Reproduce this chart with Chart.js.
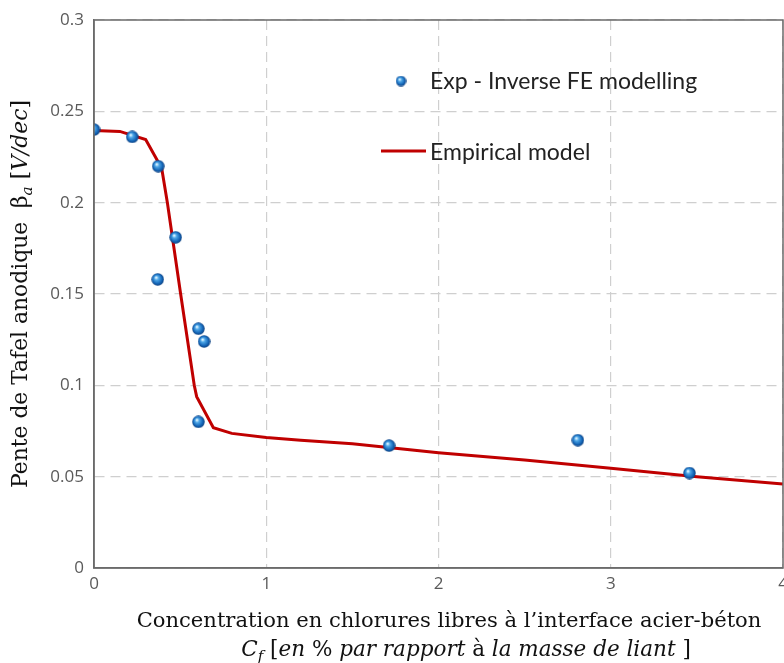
<!DOCTYPE html>
<html>
<head>
<meta charset="utf-8">
<script src="https://cdn.jsdelivr.net/npm/chart.js@4.4.1/dist/chart.umd.min.js"></script>
<style>
  html, body { margin: 0; padding: 0; background: #fff; }
  #wrap { width: 784px; height: 663px; position: relative; }
</style>
</head>
<body>
<div id="wrap"><canvas id="chart" width="784" height="663"></canvas></div>
<script>
// Données
const expX = [0, 0.222, 0.373, 0.474, 0.370, 0.606, 0.639, 0.606, 1.713, 2.809, 3.457];
const expY = [0.240, 0.236, 0.220, 0.181, 0.158, 0.131, 0.124, 0.080, 0.067, 0.070, 0.052];

const modelX = [0, 0.15, 0.30, 0.393, 0.426, 0.503, 0.582, 0.596, 0.693, 0.80, 1.0, 1.2, 1.5, 2.0, 2.5, 3.0, 3.5, 4.0];
const modelY = [0.2395, 0.239, 0.2346, 0.2188, 0.200, 0.150, 0.100, 0.0938, 0.0768, 0.0737, 0.0715, 0.0700, 0.0680, 0.0631, 0.0591, 0.0546, 0.0500, 0.0460];

const xTicks = [0, 1, 2, 3, 4];
const yTicks = [0, 0.05, 0.1, 0.15, 0.2, 0.25, 0.3];

const seriesNames = ['Exp - Inverse FE modelling', 'Empirical model'];

const SERIF = '"DejaVu Serif", "Liberation Serif", serif';
const AXIS_COLOR = '#6b6b6b';
const RED = '#c00000';

// Petite sphère bleue pour les points
function makeSphere(d) {
    const c = document.createElement('canvas');
    c.width = d; c.height = d;
    const g = c.getContext('2d');
    const r = d / 2;
    const grad = g.createRadialGradient(r * 0.75, r * 0.7, r * 0.1, r, r, r);
    grad.addColorStop(0, '#d6f0ff');
    grad.addColorStop(0.25, '#4fa8e8');
    grad.addColorStop(0.7, '#1466b8');
    grad.addColorStop(1, '#0a3a78');
    g.fillStyle = grad;
    g.beginPath();
    g.arc(r, r, r - 0.3, 0, Math.PI * 2);
    g.fill();
    return c;
}
const sphere = makeSphere(13);
const sphereSmall = makeSphere(11);

// Texte composé de morceaux (droit / italique / indice)
function runsWidth(ctx, runs, size) {
    let w = 0;
    runs.forEach(r => {
        const s = r.sub ? size * 0.7 : size;
        ctx.font = (r.it ? 'italic ' : '') + s + 'px ' + SERIF;
        w += ctx.measureText(r.t).width;
    });
    return w;
}
function drawRuns(ctx, runs, x, y, size) {
    let cx = x;
    runs.forEach(r => {
        const s = r.sub ? size * 0.7 : size;
        ctx.font = (r.it ? 'italic ' : '') + s + 'px ' + SERIF;
        ctx.fillText(r.t, cx, y + (r.sub ? size * 0.22 : 0));
        cx += ctx.measureText(r.t).width;
    });
}
// taille de police pour obtenir une largeur voulue
function fitSize(ctx, runs, target) {
    const w = runsWidth(ctx, runs, 20);
    return 20 * target / w;
}

const yTitle = [
    { t: 'Pente de Tafel anodique  β' },
    { t: 'a', it: true, sub: true },
    { t: ' [' },
    { t: 'V/dec', it: true },
    { t: ']' }
];
const xTitle1 = [{ t: 'Concentration en chlorures libres à l’interface acier-béton' }];
const xTitle2 = [
    { t: 'C', it: true },
    { t: 'f', it: true, sub: true },
    { t: ' [' },
    { t: 'en ', it: true },
    { t: '% ' },
    { t: 'par rapport', it: true },
    { t: ' à ' },
    { t: 'la masse de liant', it: true },
    { t: ' ]' }
];

const decorations = {
    id: 'decorations',
    afterDraw(chart) {
        const ctx = chart.ctx;
        const a = chart.chartArea;
        ctx.save();

        // cadre
        ctx.strokeStyle = AXIS_COLOR;
        ctx.lineWidth = 1.5;
        ctx.strokeRect(a.left, a.top, a.right - a.left, a.bottom - a.top);

        ctx.fillStyle = '#111';
        ctx.textBaseline = 'alphabetic';
        ctx.textAlign = 'left';

        // titre axe Y (vertical)
        let s = fitSize(ctx, yTitle, 388);
        let w = runsWidth(ctx, yTitle, s);
        ctx.save();
        ctx.translate(27, 294);
        ctx.rotate(-Math.PI / 2);
        drawRuns(ctx, yTitle, -w / 2, 0, s);
        ctx.restore();

        // titre axe X, deux lignes
        s = fitSize(ctx, xTitle1, 625);
        w = runsWidth(ctx, xTitle1, s);
        drawRuns(ctx, xTitle1, 449 - w / 2, 627, s);
        const s2 = s * 1.02;
        w = runsWidth(ctx, xTitle2, s2);
        drawRuns(ctx, xTitle2, 466 - w / 2, 656, s2);

        // légende
        ctx.drawImage(sphereSmall, 401 - 5.5, 81 - 5.5);
        ctx.strokeStyle = RED;
        ctx.lineWidth = 3;
        ctx.beginPath();
        ctx.moveTo(381, 151);
        ctx.lineTo(426, 151);
        ctx.stroke();

        ctx.fillStyle = '#222';
        ctx.font = '23px Lato, "Open Sans", sans-serif';
        ctx.textBaseline = 'middle';
        ctx.fillText(seriesNames[0], 430, 82);
        ctx.fillText(seriesNames[1], 430, 153);
        ctx.restore();
    }
};

const ctx = document.getElementById('chart').getContext('2d');
new Chart(ctx, {
    data: {
        datasets: [
            {
                type: 'scatter',
                label: seriesNames[0],
                data: expX.map((x, i) => ({ x: x, y: expY[i] })),
                pointStyle: sphere,
                pointRadius: 6.5,
                order: 1
            },
            {
                type: 'line',
                label: seriesNames[1],
                data: modelX.map((x, i) => ({ x: x, y: modelY[i] })),
                borderColor: RED,
                borderWidth: 3,
                pointRadius: 0,
                tension: 0,
                fill: false,
                order: 2
            }
        ]
    },
    options: {
        responsive: false,
        animation: false,
        layout: { autoPadding: false, padding: { top: 20, right: 1, left: 0, bottom: 0 } },
        plugins: {
            legend: { display: false },
            tooltip: { enabled: false }
        },
        scales: {
            x: {
                type: 'linear',
                min: 0, max: 4,
                afterBuildTicks: (sc) => { sc.ticks = xTicks.map(v => ({ value: v })); },
                afterFit: (sc) => { sc.height = 95; sc.paddingLeft = 0; sc.paddingRight = 0; },
                ticks: {
                    color: '#5a5a5a',
                    font: { family: '"Open Sans", sans-serif', size: 17 },
                    padding: 6,
                    maxRotation: 0,
                    callback: v => String(v)
                },
                grid: { color: '#cfcfcf', lineWidth: 1.2, drawTicks: false },
                border: { display: true, color: AXIS_COLOR, width: 1.5, dash: [10, 6] }
            },
            y: {
                type: 'linear',
                min: 0, max: 0.3,
                afterBuildTicks: (sc) => { sc.ticks = yTicks.map(v => ({ value: v })); },
                afterFit: (sc) => { sc.width = 94; sc.paddingTop = 0; sc.paddingBottom = 0; },
                ticks: {
                    color: '#5a5a5a',
                    font: { family: '"Open Sans", sans-serif', size: 17 },
                    padding: 10,
                    callback: v => String(+v.toFixed(2))
                },
                grid: { color: '#cfcfcf', lineWidth: 1.2, drawTicks: false },
                border: { display: true, color: AXIS_COLOR, width: 1.5, dash: [10, 6] }
            }
        }
    },
    plugins: [decorations]
});
</script>
</body>
</html>
